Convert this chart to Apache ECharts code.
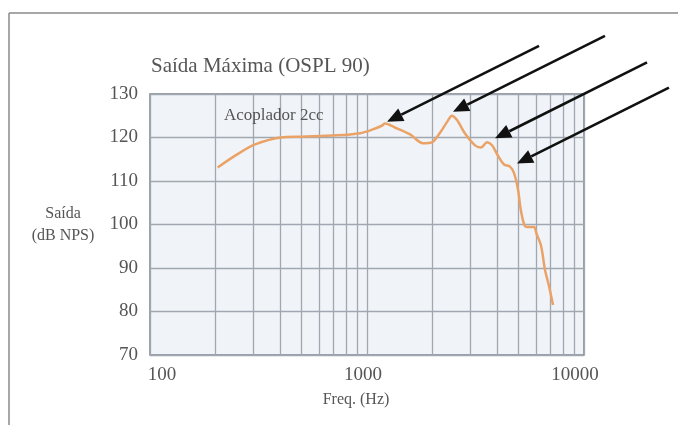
<!DOCTYPE html>
<html>
<head>
<meta charset="utf-8">
<script src="https://cdn.jsdelivr.net/npm/echarts@6/dist/echarts.min.js"></script>
<style>
  html, body { margin: 0; padding: 0; background: #ffffff; }
  #chart { width: 678px; height: 425px; }
</style>
</head>
<body>
<div id="chart"></div>
<script>
// Maximum output (OSPL 90) measured in a 2cc coupler
const freqHz = [205, 250, 305, 400, 500, 720, 930, 1055, 1170, 1210, 1345, 1580, 1810, 1990,
                2170, 2340, 2460, 2600, 2830, 3145, 3350, 3575, 3770, 4015, 4280, 4560, 4760,
                4965, 5125, 5345, 5580, 5890, 6030, 6340, 6610, 6900, 7200];
const outputDb = [113.1, 116.0, 118.4, 120.0, 120.2, 120.5, 121.0, 121.8, 122.7, 123.2, 122.3, 120.7, 118.7, 118.9,
                  121.1, 123.6, 125.0, 124.0, 120.9, 118.2, 117.7, 118.9, 118.2, 115.8, 113.8, 113.3, 111.8,
                  108.0, 103.1, 99.6, 99.4, 99.4, 98.0, 95.1, 89.6, 85.8, 81.5];

// Resonance peaks the arrows point at
const peakFreq = [1237, 2490, 3890, 4910];
const peakDb = [123.6, 125.9, 119.8, 114.0];

// Intermediate log-decade grid lines
const minorFreqs = [200, 300, 400, 500, 600, 700, 800, 900,
                    2000, 3000, 4000, 5000, 6000, 7000, 8000, 9000];
const yTicks = [70, 80, 90, 100, 110, 120, 130];

const seriesName = 'Acoplador 2cc';
const FONT = '"Liberation Serif", "DejaVu Serif", serif';
const TEXT = '#555555';
const GRIDLINE = '#a0a7b0';

const chart = echarts.init(document.getElementById('chart'), null, { renderer: 'canvas' });

const option = {
  backgroundColor: '#ffffff',
  animation: false,
  title: {
    text: 'Saída Máxima (OSPL 90)',
    left: 146,
    top: 51,
    textStyle: { fontFamily: FONT, fontSize: 21, fontWeight: 'normal', color: TEXT }
  },
  legend: {
    data: [{ name: seriesName, icon: 'none' }],
    left: 214,
    top: 102,
    itemWidth: 0,
    itemHeight: 0,
    selectedMode: false,
    textStyle: { fontFamily: FONT, fontSize: 17, color: TEXT }
  },
  grid: {
    left: 150,
    top: 94,
    width: 434,
    height: 261,
    show: true,
    backgroundColor: '#f0f4f8',
    borderColor: '#7b828c',
    borderWidth: 1.5
  },
  xAxis: {
    type: 'log',
    logBase: 10,
    min: 100,
    max: 10000,
    name: 'Freq. (Hz)',
    nameLocation: 'middle',
    nameGap: 37,
    nameTextStyle: { fontFamily: FONT, fontSize: 16, color: TEXT, padding: [0, 22, 0, 0] },
    axisLine: { show: false },
    axisTick: { show: false },
    splitLine: { show: true, lineStyle: { color: GRIDLINE, width: 1.3 } },
    axisLabel: {
      margin: 11,
      fontFamily: FONT,
      fontSize: 19,
      color: TEXT,
      formatter: function (v) {
        const r = Math.round(v);
        if (r === 100) return '{lo|100}';
        if (r === 1000) return '{mid|1000}';
        if (r === 10000) return '{hi|10000}';
        return '';
      },
      rich: {
        lo: { fontFamily: FONT, fontSize: 19, color: TEXT, padding: [0, 0, 0, 24] },
        mid: { fontFamily: FONT, fontSize: 19, color: TEXT, padding: [0, 8, 0, 0] },
        hi: { fontFamily: FONT, fontSize: 19, color: TEXT, padding: [0, 18, 0, 0] }
      }
    }
  },
  yAxis: {
    type: 'value',
    min: yTicks[0],
    max: yTicks[yTicks.length - 1],
    interval: 10,
    name: 'Saída\n(dB NPS)',
    nameLocation: 'middle',
    nameRotate: 0,
    nameGap: 87,
    nameTextStyle: { fontFamily: FONT, fontSize: 16, color: TEXT, align: 'center', lineHeight: 22,
                     padding: [6, 0, 0, 0] },
    axisLine: { show: false },
    axisTick: { show: false },
    splitLine: { show: true, lineStyle: { color: GRIDLINE, width: 1.3 } },
    axisLabel: { margin: 12, fontFamily: FONT, fontSize: 19, color: TEXT }
  },
  series: [
    {
      name: seriesName,
      type: 'line',
      data: freqHz.map((f, i) => [f, outputDb[i]]),
      smooth: 0.3,
      showSymbol: false,
      symbol: 'none',
      z: 3,
      lineStyle: { color: '#eba266', width: 2.5 },
      itemStyle: { color: '#eba266' },
      markLine: {
        silent: true,
        z: 1,
        symbol: 'none',
        label: { show: false },
        lineStyle: { color: GRIDLINE, width: 1.3, type: 'solid' },
        data: minorFreqs.map(f => ({ xAxis: f }))
      }
    }
  ]
};

chart.setOption(option);

// Frame around the figure and arrows pointing at the resonance peaks
function drawAnnotations() {
  const elements = [
    { type: 'line', silent: true, shape: { x1: 9, y1: 13, x2: 678, y2: 13 },
      style: { stroke: '#8a8a8a', lineWidth: 1.5 } },
    { type: 'line', silent: true, shape: { x1: 9, y1: 13, x2: 9, y2: 425 },
      style: { stroke: '#8a8a8a', lineWidth: 1.5 } }
  ];
  const dx = 152, dy = -76;
  const len = Math.sqrt(dx * dx + dy * dy);
  const ux = dx / len, uy = dy / len;      // unit vector from tip towards tail
  const headLen = 16, headHalf = 7;
  peakFreq.forEach((f, i) => {
    const tip = chart.convertToPixel({ gridIndex: 0 }, [f, peakDb[i]]);
    const bx = tip[0] + ux * headLen, by = tip[1] + uy * headLen;
    elements.push({
      type: 'line', silent: true, z: 10,
      shape: { x1: bx, y1: by, x2: tip[0] + dx, y2: tip[1] + dy },
      style: { stroke: '#111111', lineWidth: 2.6 }
    });
    elements.push({
      type: 'polygon', silent: true, z: 10,
      shape: { points: [
        [tip[0], tip[1]],
        [bx - uy * headHalf, by + ux * headHalf],
        [bx + uy * headHalf, by - ux * headHalf]
      ] },
      style: { fill: '#111111' }
    });
  });
  chart.setOption({ graphic: { elements: elements } });
}
drawAnnotations();
</script>
</body>
</html>
